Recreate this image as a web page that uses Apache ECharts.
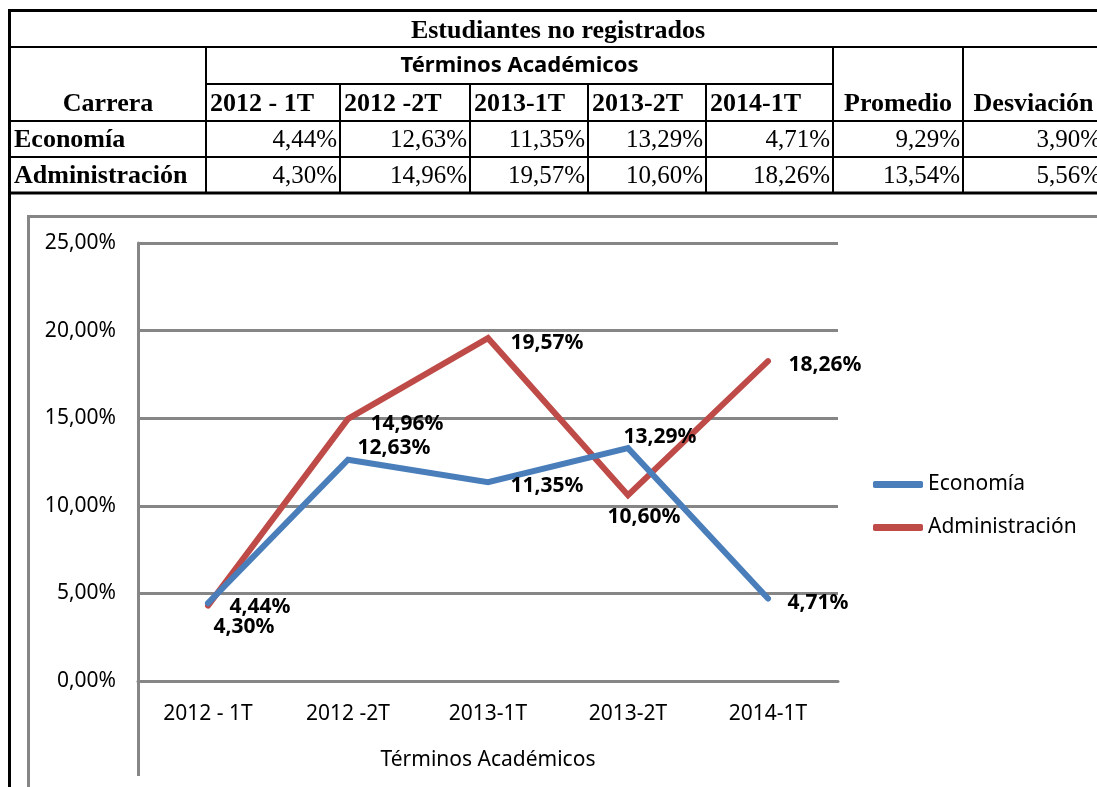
<!DOCTYPE html>
<html>
<head>
<meta charset="utf-8">
<script src="https://cdn.jsdelivr.net/npm/echarts@6/dist/echarts.min.js"></script>
<style>
  html, body { margin: 0; padding: 0; background: #fff; }
  #chart { width: 1097px; height: 787px; }
</style>
</head>
<body>
<div id="chart"></div>
<script>
// datos
const categories = ['2012 - 1T', '2012 -2T', '2013-1T', '2013-2T', '2014-1T'];
const carreras = ['Economía', 'Administración'];
const economia = [4.44, 12.63, 11.35, 13.29, 4.71];
const administracion = [4.30, 14.96, 19.57, 10.60, 18.26];
const promedio = [9.29, 13.54];
const desviacion = [3.90, 5.56];
const yTicks = ['0,00%', '5,00%', '10,00%', '15,00%', '20,00%', '25,00%'];

const pct = v => v.toFixed(2).replace('.', ',') + '%';

// posiciones de etiquetas (estilo, no datos)
const econLabelOffsets = [[21, 4], [9, -12], [22, 4], [-5, -11], [19, 5]];
const adminLabelOffsets = [[5, 21], [22, 5], [22, 5], [-21, 22], [20, 4]];

// tabla
const colX = [10, 206, 340, 470, 588, 706, 833, 963, 1104];
const rowY = [10, 47, 84, 121, 157, 193];
const serifB = 'bold 26px "Liberation Serif"';
const serif = '25px "Liberation Serif"';

function txt(text, x, y, font, align) {
  return {
    type: 'text', x: x, y: y, silent: true,
    style: { text: text, font: font, fill: '#000', align: align, textAlign: align,
      verticalAlign: 'middle', textVerticalAlign: 'middle' }
  };
}
function ln(x1, y1, x2, y2, w, c) {
  return { type: 'line', silent: true, shape: { x1: x1, y1: y1, x2: x2, y2: y2 },
    style: { stroke: c || '#000', lineWidth: w } };
}

const g = [];
// marco del gráfico
g.push({ type: 'rect', silent: true, shape: { x: 28.5, y: 216.5, width: 1100, height: 600 },
  style: { fill: 'none', stroke: '#868686', lineWidth: 3 } });
// prolongación del eje vertical
g.push(ln(138.5, 680, 138.5, 776, 3, '#868686'));

// líneas de tabla
g.push(ln(8.5, 10.5, 1104, 10.5, 3));
g.push(ln(9.5, 9, 9.5, 787, 3));
g.push(ln(9, rowY[1], 1104, rowY[1], 2));
g.push(ln(colX[1], rowY[2], colX[6], rowY[2], 2));
[3, 4, 5].forEach(i => g.push(ln(9, rowY[i], 1104, rowY[i], i === 5 ? 3 : 2)));
g.push(ln(colX[1], rowY[1], colX[1], rowY[5], 2));
[2, 3, 4, 5].forEach(i => g.push(ln(colX[i], rowY[2], colX[i], rowY[5], 2)));
g.push(ln(colX[6], rowY[1], colX[6], rowY[5], 2));
g.push(ln(colX[7], rowY[1], colX[7], rowY[5], 2));

// textos de tabla
g.push(txt('Estudiantes no registrados', 558, 31, serifB, 'center'));
g.push(txt('Términos Académicos', (colX[1] + colX[6]) / 2, 66, 'bold 22px "Noto Sans"', 'center'));
g.push(txt('Carrera', 108, 104, serifB, 'center'));
categories.forEach((c, i) => g.push(txt(c, colX[i + 1] + 4, 104, serifB, 'left')));
g.push(txt('Promedio', (colX[6] + colX[7]) / 2, 104, serifB, 'center'));
g.push(txt('Desviación', (colX[7] + colX[8]) / 2, 104, serifB, 'center'));
const rows = [economia.concat([promedio[0], desviacion[0]]), administracion.concat([promedio[1], desviacion[1]])];
rows.forEach((r, ri) => {
  const cy = (rowY[3 + ri] + rowY[4 + ri]) / 2 + 1;
  g.push(txt(carreras[ri], 14, cy, serifB, 'left'));
  r.forEach((v, ci) => g.push(txt(pct(v), colX[ci + 2] - 3, cy, serif, 'right')));
});

function points(values, offsets) {
  return values.map((v, i) => ({ value: v, label: { offset: offsets[i] } }));
}

const labelStyle = {
  show: true, position: 'right', distance: 0,
  fontFamily: 'Noto Sans', fontWeight: 'bold', fontSize: 21, color: '#000',
  formatter: p => pct(p.value)
};

const chart = echarts.init(document.getElementById('chart'));
chart.setOption({
  animation: false,
  backgroundColor: '#fff',
  textStyle: { fontFamily: 'Noto Sans' },
  grid: { left: 138, right: 259, top: 243, bottom: 106 },
  legend: {
    orient: 'vertical', left: 873, top: 474, padding: 0,
    icon: 'roundRect', itemWidth: 50, itemHeight: 7, itemGap: 22,
    textStyle: { fontSize: 21, color: '#000', fontFamily: 'Noto Sans' },
    data: carreras
  },
  xAxis: {
    type: 'category', data: categories, boundaryGap: true,
    axisLine: { lineStyle: { color: '#868686', width: 3 } },
    axisTick: { show: false },
    axisLabel: { margin: 23, fontSize: 21, color: '#000', fontFamily: 'Noto Sans' },
    name: 'Términos Académicos', nameLocation: 'middle', nameGap: 69,
    nameTextStyle: { fontSize: 21, color: '#000', fontFamily: 'Noto Sans' }
  },
  yAxis: {
    type: 'value', min: 0, max: 25, interval: 5,
    axisLine: { show: true, lineStyle: { color: '#868686', width: 3 } },
    axisTick: { show: false },
    splitLine: { lineStyle: { color: '#868686', width: 3 } },
    axisLabel: { margin: 22, fontSize: 21, color: '#000', fontFamily: 'Noto Sans',
      formatter: v => yTicks[Math.round(v / 5)] }
  },
  series: [
    {
      name: carreras[0], type: 'line', data: points(economia, econLabelOffsets),
      symbol: 'circle', symbolSize: 1, color: '#4A7EBB',
      lineStyle: { width: 6, color: '#4A7EBB', cap: 'round', join: 'miter' },
      label: labelStyle, z: 3
    },
    {
      name: carreras[1], type: 'line', data: points(administracion, adminLabelOffsets),
      symbol: 'circle', symbolSize: 1, color: '#BE4B48',
      lineStyle: { width: 6, color: '#BE4B48', cap: 'round', join: 'miter' },
      label: labelStyle, z: 2
    }
  ],
  graphic: g
});
</script>
</body>
</html>
